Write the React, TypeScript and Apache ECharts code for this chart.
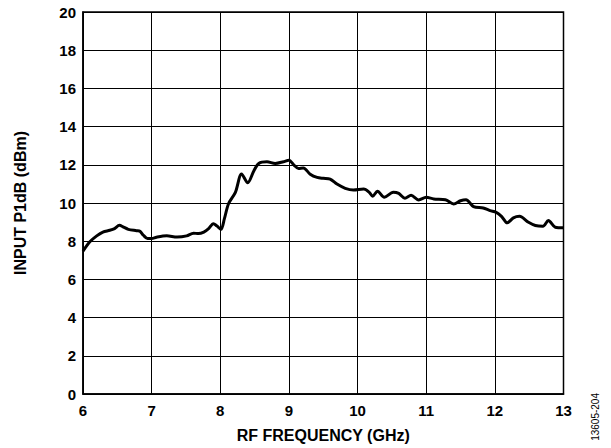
import React, { useEffect, useRef } from "react";
import * as echarts from "echarts";

const freqGHz = [
  6.0, 6.1, 6.2, 6.29, 6.39, 6.46, 6.53, 6.59, 6.66, 6.78, 6.83, 6.88, 6.94, 7.0, 7.07,
  7.22, 7.37, 7.51, 7.61, 7.68, 7.76, 7.83, 7.9, 7.95, 8.01, 8.06, 8.12, 8.22, 8.31, 8.4,
  8.49, 8.56, 8.68, 8.8, 8.92, 9.0, 9.07, 9.14, 9.21, 9.31, 9.41, 9.5, 9.6, 9.7, 9.82,
  9.94, 10.09, 10.17, 10.22, 10.29, 10.39, 10.52, 10.6, 10.69, 10.78, 10.89, 11.0, 11.11,
  11.28, 11.4, 11.5, 11.58, 11.69, 11.83, 11.93, 12.02, 12.1, 12.18, 12.27, 12.36, 12.49,
  12.59, 12.7, 12.78, 12.88, 13.0,
];
const p1dB = [
  7.48, 7.97, 8.28, 8.48, 8.57, 8.66, 8.83, 8.74, 8.62, 8.55, 8.52, 8.31, 8.14, 8.14, 8.21,
  8.28, 8.22, 8.28, 8.42, 8.4, 8.48, 8.66, 8.92, 8.8, 8.62, 9.18, 9.96, 10.56, 11.52, 11.06,
  11.69, 12.07, 12.16, 12.07, 12.16, 12.24, 12.0, 11.81, 11.83, 11.51, 11.34, 11.29, 11.25, 10.99, 10.77,
  10.68, 10.73, 10.56, 10.35, 10.62, 10.3, 10.56, 10.5, 10.25, 10.4, 10.16, 10.3, 10.21,
  10.17, 9.95, 10.12, 10.17, 9.81, 9.74, 9.6, 9.51, 9.29, 8.96, 9.22, 9.3, 8.99,
  8.82, 8.78, 9.08, 8.73, 8.7,
];
const xTicks = [6, 7, 8, 9, 10, 11, 12, 13];
const yTicks = [0, 2, 4, 6, 8, 10, 12, 14, 16, 18, 20];

export default function App() {
  const ref = useRef<HTMLDivElement>(null);
  useEffect(() => {
    if (!ref.current) return;
    const chart = echarts.init(ref.current, null, { renderer: "svg" });
    const font = "'Liberation Sans', Arial, sans-serif";
    chart.setOption({
      animation: false,
      backgroundColor: "#ffffff",
      grid: { left: 83, right: 47.5, top: 12, bottom: 51.5, show: true, borderColor: "#000", borderWidth: 1.5, backgroundColor: "transparent" },
      xAxis: {
        type: "value",
        min: xTicks[0],
        max: xTicks[xTicks.length - 1],
        interval: 1,
        name: "RF FREQUENCY (GHz)",
        nameLocation: "middle",
        nameGap: 33,
        nameTextStyle: { fontFamily: font, fontWeight: "bold", fontSize: 16, color: "#000" },
        axisLine: { show: true, lineStyle: { color: "#000", width: 1.5 } },
        axisTick: { show: false },
        axisLabel: { fontFamily: font, fontWeight: "bold", fontSize: 15, color: "#000", margin: 9 },
        splitLine: { show: true, lineStyle: { color: "#000", width: 1 } },
      },
      yAxis: {
        type: "value",
        min: yTicks[0],
        max: yTicks[yTicks.length - 1],
        interval: 2,
        name: "INPUT P1dB (dBm)",
        nameLocation: "middle",
        nameGap: 55,
        nameTextStyle: { fontFamily: font, fontWeight: "bold", fontSize: 16, color: "#000" },
        axisLine: { show: true, lineStyle: { color: "#000", width: 1.5 } },
        axisTick: { show: false },
        axisLabel: { fontFamily: font, fontWeight: "bold", fontSize: 15, color: "#000", margin: 7 },
        splitLine: { show: true, lineStyle: { color: "#000", width: 1 } },
      },
      series: [
        {
          type: "line",
          data: freqGHz.map((f, i) => [f, p1dB[i]]),
          showSymbol: false,
          smooth: 0.3,
          lineStyle: { color: "#000", width: 3 },
        },
      ],
      graphic: [
        {
          type: "text",
          x: 595,
          y: 393,
          rotation: Math.PI / 2,
          style: { text: "13605-204", fontFamily: font, fontSize: 10, fill: "#000", textAlign: "right", textVerticalAlign: "middle" },
        },
      ],
    });
    return () => chart.dispose();
  }, []);
  return <div ref={ref} style={{ width: 611, height: 448, position: "absolute", left: 0, top: 0 }} />;
}
